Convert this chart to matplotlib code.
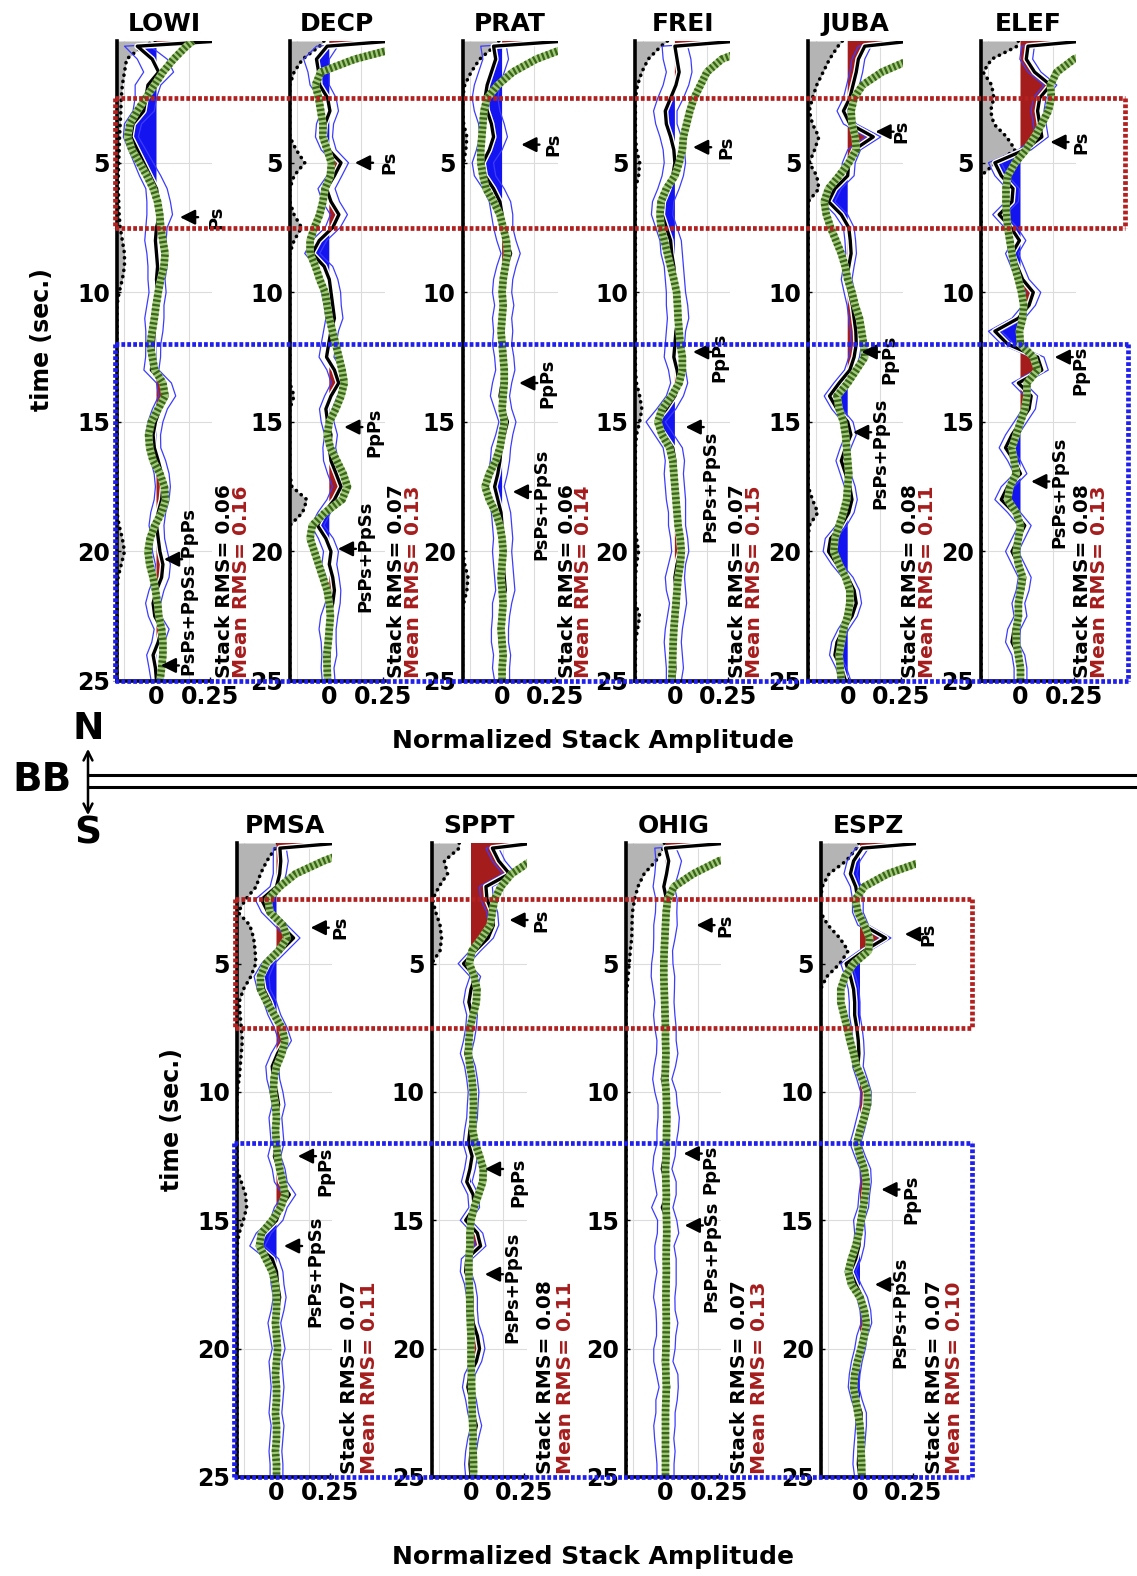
import numpy as np
import matplotlib
matplotlib.use('Agg')
import matplotlib.pyplot as plt
from matplotlib.lines import Line2D
from matplotlib.patches import FancyArrowPatch
import matplotlib.transforms as mtransforms
import matplotlib.patheffects as pe

plt.rcParams['font.family'] = ['DejaVu Sans']
plt.rcParams['font.weight'] = 'bold'

W, H = 1137, 1576

# sampling grid of the receiver-function traces (s)
T = np.concatenate([[0.3], np.arange(0.5, 25.01, 0.5)])

TOP_STATIONS = ["LOWI", "DECP", "PRAT", "FREI", "JUBA", "ELEF"]
BOT_STATIONS = ["PMSA", "SPPT", "OHIG", "ESPZ"]

STACK_RMS = {"LOWI": 0.06, "DECP": 0.07, "PRAT": 0.06, "FREI": 0.07, "JUBA": 0.08,
             "ELEF": 0.08, "PMSA": 0.07, "SPPT": 0.08, "OHIG": 0.07, "ESPZ": 0.07}
MEAN_RMS = {"LOWI": 0.16, "DECP": 0.13, "PRAT": 0.14, "FREI": 0.15, "JUBA": 0.11,
            "ELEF": 0.13, "PMSA": 0.11, "SPPT": 0.11, "OHIG": 0.13, "ESPZ": 0.10}

# ---------------- stacks (black), synthetics (green), spread (thin blue), gray curve
LOWI_STACK = [0.30, -0.09, -0.02, 0.01, -0.04, -0.05, -0.06, -0.11, -0.12, -0.09,
              -0.06, -0.03, 0.0, 0.01, 0.015, 0.0, -0.005, 0.0, 0.005, 0.0,
              0.005, -0.005, -0.01, -0.01, -0.015, -0.016, -0.024, 0.035, 0.05, 0.016,
              -0.005, -0.016, -0.01, 0.008, 0.024, 0.03, 0.024, 0.008, 0.0, 0.008,
              0.016, 0.03, 0.024, 0.0, -0.016, -0.008, 0.024, 0.008, -0.016, -0.005,
              0.0]
LOWI_SYN = [0.17, 0.14, 0.08, 0.03, -0.01, -0.05, -0.09, -0.125, -0.135, -0.115,
            -0.08, -0.045, -0.015, 0.005, 0.015, 0.02, 0.03, 0.04, 0.035, 0.02,
            0.008, -0.002, -0.01, -0.02, -0.03, -0.02, -0.008, 0.03, 0.04, 0.008,
            -0.024, -0.037, -0.032, -0.016, 0.016, 0.037, 0.043, 0.024, -0.008, -0.03,
            -0.04, -0.032, -0.016, -0.005, 0.005, 0.011, 0.024, 0.03, 0.03, 0.024,
            0.016]
LOWI_SPREAD = [0.0, 0.06, 0.07, 0.07, 0.06, 0.05, 0.05, 0.04, 0.035, 0.04,
               0.045, 0.05, 0.05, 0.055, 0.06, 0.05, 0.05, 0.045, 0.045, 0.04,
               0.04, 0.04, 0.045, 0.04, 0.035, 0.035, 0.035, 0.035, 0.04, 0.035,
               0.035, 0.035, 0.03, 0.035, 0.035, 0.035, 0.035, 0.035, 0.035, 0.03,
               0.035, 0.035, 0.035, 0.035, 0.035, 0.03, 0.035, 0.03, 0.03, 0.03,
               0.025]
LOWI_GRAY = [0.18, 0.12, 0.045, 0.035, 0.025, 0.02, 0.018, 0.015, 0.012, 0.01,
             0.008, 0.006, 0.006, 0.008, 0.01, 0.015, 0.025, 0.035, 0.035, 0.025,
             0.01, 0, 0, 0, 0, 0, 0, 0, 0, 0,
             0, 0, 0, 0, 0, 0, 0, 0, 0.01, 0.025,
             0.035, 0.02, 0.005, 0, 0, 0, 0, 0, 0, 0,
             0]

DECP_STACK = [0.30, -0.01, -0.06, -0.05, -0.045, -0.008, 0.003, -0.02, -0.025, -0.003,
              0.055, 0.024, -0.013, 0.008, 0.045, 0.016, -0.047, -0.08, -0.024, 0.0,
              0.008, 0.016, 0.024, 0.008, -0.003, -0.013, 0.024, 0.044, 0.008, -0.016,
              -0.008, 0.008, 0.0, 0.008, 0.032, 0.055, 0.024, -0.024, -0.055, -0.016,
              0.008, 0.0, 0.016, 0.024, 0.016, 0.0, -0.008, -0.003, 0.0, -0.008,
              -0.003]
DECP_SYN = [0.40, 0.35, 0.12, -0.04, -0.065, -0.05, -0.04, -0.03, -0.03, -0.01,
            0.01, 0.005, -0.02, -0.03, -0.045, -0.07, -0.09, -0.09, -0.065, -0.045,
            -0.02, -0.01, 0.0, 0.015, 0.03, 0.045, 0.06, 0.07, 0.055, 0.03,
            0.0, -0.01, 0.005, 0.035, 0.065, 0.085, 0.06, -0.02, -0.08, -0.09,
            -0.07, -0.05, -0.03, -0.01, 0.0, 0.005, 0.0, -0.005, -0.012, -0.01,
            -0.008]
DECP_SPREAD = [0.0, 0.05, 0.06, 0.05, 0.045, 0.04, 0.04, 0.04, 0.04, 0.035,
               0.035, 0.035, 0.04, 0.04, 0.04, 0.035, 0.035, 0.035, 0.04, 0.04,
               0.045, 0.04, 0.04, 0.035, 0.035, 0.035, 0.035, 0.035, 0.03, 0.03,
               0.03, 0.03, 0.03, 0.035, 0.04, 0.04, 0.035, 0.03, 0.03, 0.035,
               0.035, 0.035, 0.03, 0.03, 0.035, 0.04, 0.04, 0.035, 0.035, 0.03,
               0.03]
DECP_GRAY = [0.16, 0.14, 0.06, 0.02, 0, 0, 0, 0, 0, 0.03,
             0.07, 0.02, 0, 0, 0.02, 0.055, 0.02, 0, 0, 0,
             0, 0, 0, 0, 0, 0, 0, 0, 0.02, 0,
             0, 0, 0, 0, 0, 0.01, 0.08, 0.06, 0, 0,
             0, 0, 0, 0, 0, 0, 0, 0, 0, 0,
             0]

PRAT_STACK = [0.30, -0.04, -0.03, -0.05, -0.07, -0.08, -0.07, -0.05, -0.04, -0.06,
              -0.09, -0.08, -0.04, -0.01, 0.0, 0.005, 0.02, 0.04, 0.02, 0.005,
              0.0, 0.01, 0.0, 0.005, 0.0, 0.01, 0.015, 0.0, -0.01, 0.005,
              0.025, 0.01, -0.005, -0.01, -0.02, -0.035, -0.02, -0.005, 0.0, 0.005,
              0.0, 0.005, 0.01, 0.015, 0.0, -0.005, -0.01, -0.01, 0.0, -0.005,
              0.0]
PRAT_SYN = [0.40, 0.32, 0.16, 0.05, -0.02, -0.07, -0.085, -0.09, -0.095, -0.1,
            -0.1, -0.09, -0.075, -0.04, -0.01, 0.005, 0.02, 0.025, 0.015, 0.005,
            0.0, 0.005, 0.0, -0.005, 0.0, 0.005, 0.01, 0.01, 0.005, 0.0,
            0.01, 0.0, -0.01, -0.03, -0.06, -0.08, -0.06, -0.03, -0.01, 0.0,
            0.005, 0.0, -0.005, 0.0, 0.005, 0.0, -0.005, 0.0, 0.005, 0.0,
            0.0]
PRAT_SPREAD = [0.0, 0.06, 0.06, 0.06, 0.06, 0.06, 0.06, 0.06, 0.065, 0.06,
               0.05, 0.05, 0.05, 0.05, 0.05, 0.045, 0.045, 0.045, 0.045, 0.045,
               0.045, 0.045, 0.045, 0.045, 0.045, 0.045, 0.045, 0.045, 0.045, 0.04,
               0.04, 0.04, 0.045, 0.045, 0.045, 0.045, 0.045, 0.045, 0.045, 0.045,
               0.045, 0.045, 0.045, 0.045, 0.045, 0.04, 0.04, 0.04, 0.04, 0.04,
               0.035]
PRAT_GRAY = [0.17, 0.15, 0.08, 0.04, 0.01, 0, 0, 0.005, 0.02, 0.015,
             0.005, 0, 0, 0, 0, 0, 0, 0, 0, 0,
             0, 0, 0, 0, 0, 0, 0, 0, 0, 0,
             0, 0, 0, 0, 0, 0, 0, 0, 0, 0,
             0, 0.01, 0.025, 0.02, 0.005, 0, 0, 0, 0, 0,
             0]

FREI_STACK = [0.30, 0.0, 0.01, 0.02, 0.005, -0.02, -0.045, -0.04, -0.02, -0.005,
              0.0, -0.01, -0.03, -0.055, -0.06, -0.04, -0.02, -0.015, -0.005, 0.0,
              0.005, 0.01, 0.015, 0.005, 0.0, -0.005, 0.01, 0.02, 0.0, -0.04,
              -0.09, -0.05, -0.01, 0.0, -0.005, 0.0, 0.005, 0.01, 0.01, 0.02,
              0.025, 0.01, 0.0, 0.005, 0.015, 0.005, -0.005, -0.01, -0.005, 0.0,
              -0.005]
FREI_SYN = [0.45, 0.38, 0.22, 0.15, 0.12, 0.09, 0.07, 0.055, 0.04, 0.035,
            0.02, 0.0, -0.04, -0.065, -0.07, -0.065, -0.05, -0.035, -0.02, -0.005,
            0.008, 0.012, 0.015, 0.02, 0.025, 0.035, 0.035, 0.02, -0.015, -0.06,
            -0.08, -0.06, -0.025, -0.01, -0.005, 0.0, 0.005, 0.01, 0.015, 0.025,
            0.03, 0.025, 0.015, 0.01, 0.005, 0.0, -0.005, -0.008, -0.01, -0.012,
            -0.015]
FREI_SPREAD = [0.0, 0.06, 0.065, 0.06, 0.06, 0.06, 0.055, 0.05, 0.05, 0.05,
               0.05, 0.05, 0.05, 0.05, 0.05, 0.05, 0.05, 0.05, 0.045, 0.045,
               0.045, 0.05, 0.05, 0.045, 0.045, 0.045, 0.04, 0.04, 0.04, 0.045,
               0.045, 0.045, 0.045, 0.045, 0.045, 0.045, 0.045, 0.04, 0.04, 0.04,
               0.04, 0.04, 0.045, 0.045, 0.04, 0.04, 0.04, 0.04, 0.04, 0.04,
               0.035]
FREI_GRAY = [0.15, 0.12, 0.06, 0.03, 0.01, 0, 0, 0, 0, 0.005,
             0.02, 0.015, 0, 0, 0, 0, 0, 0, 0, 0,
             0, 0, 0, 0, 0, 0, 0, 0.005, 0.02, 0.03,
             0.02, 0.005, 0, 0, 0, 0, 0, 0, 0, 0.005,
             0.015, 0.005, 0, 0, 0, 0.02, 0.01, 0, 0, 0,
             0]

JUBA_STACK = [0.30, 0.08, 0.05, 0.04, 0.025, 0.01, -0.02, 0.01, 0.12, 0.03,
              0.005, 0.0, -0.06, -0.09, -0.03, 0.005, 0.012, 0.016, 0.005, -0.005,
              0.008, 0.022, 0.03, 0.038, 0.04, 0.03, 0.01, -0.04, -0.085, -0.05,
              0.0, 0.015, -0.01, -0.03, -0.01, 0.01, 0.02, 0.005, -0.03, -0.08,
              -0.09, -0.05, 0.0, 0.03, 0.04, 0.02, -0.02, -0.05, -0.06, -0.03,
              -0.01]
JUBA_SYN = [0.50, 0.45, 0.30, 0.16, 0.07, 0.03, 0.016, 0.02, 0.035, 0.04,
            0.005, -0.04, -0.09, -0.11, -0.1, -0.08, -0.055, -0.03, -0.012, 0.0,
            0.02, 0.035, 0.055, 0.065, 0.075, 0.08, 0.04, 0.0, -0.05, -0.04,
            -0.02, -0.01, -0.005, 0.0, 0.005, 0.0, -0.005, -0.02, -0.04, -0.06,
            -0.065, -0.04, -0.01, 0.01, 0.01, 0.0, -0.02, -0.03, -0.04, -0.035,
            -0.03]
JUBA_SPREAD = [0.0, 0.03, 0.03, 0.03, 0.03, 0.03, 0.03, 0.03, 0.035, 0.03,
               0.03, 0.03, 0.03, 0.03, 0.03, 0.025, 0.025, 0.025, 0.025, 0.025,
               0.025, 0.025, 0.025, 0.025, 0.025, 0.025, 0.025, 0.025, 0.025, 0.025,
               0.025, 0.025, 0.025, 0.025, 0.025, 0.025, 0.025, 0.025, 0.025, 0.025,
               0.025, 0.025, 0.025, 0.025, 0.025, 0.025, 0.025, 0.025, 0.025, 0.025,
               0.025]
JUBA_GRAY = [0.16, 0.14, 0.1, 0.07, 0.04, 0.02, 0.005, 0.02, 0.05, 0.03,
             0.005, 0.04, 0.05, 0, 0, 0, 0, 0, 0, 0,
             0, 0, 0, 0, 0, 0, 0, 0, 0, 0,
             0, 0, 0, 0, 0, 0, 0.02, 0.045, 0.005, 0,
             0, 0, 0, 0, 0, 0, 0, 0, 0, 0,
             0]

ELEF_STACK = [0.30, 0.035, 0.027, 0.066, 0.14, 0.09, 0.08, 0.09, 0.1, 0.02,
              -0.12, -0.09, -0.035, -0.04, -0.1, -0.045, -0.005, -0.04, -0.015, 0.01,
              0.06, 0.04, -0.01, -0.12, -0.06, 0.08, 0.1, -0.01, 0.05, 0.04,
              0.0, -0.04, -0.07, -0.03, 0.0, -0.06, -0.09, -0.03, 0.02, -0.01,
              -0.04, -0.01, 0.02, 0.01, -0.01, 0.0, -0.03, -0.04, -0.01, 0.0,
              0.0]
ELEF_SYN = [0.50, 0.40, 0.25, 0.17, 0.14, 0.145, 0.13, 0.1, 0.066, 0.025,
            -0.025, -0.06, -0.068, -0.068, -0.065, -0.06, -0.05, -0.04, -0.028, -0.01,
            0.005, 0.015, 0.01, -0.005, 0.0, 0.06, 0.08, 0.03, 0.03, 0.02,
            0.0, -0.02, -0.04, -0.03, -0.02, -0.05, -0.06, -0.02, 0.0, -0.01,
            -0.02, -0.01, 0.01, 0.0, -0.01, -0.01, -0.02, -0.02, -0.01, 0.0,
            0.0]
ELEF_SPREAD = [0.0, 0.03, 0.03, 0.03, 0.03, 0.03, 0.03, 0.03, 0.03, 0.03,
               0.03, 0.03, 0.03, 0.03, 0.03, 0.03, 0.03, 0.03, 0.03, 0.03,
               0.035, 0.03, 0.03, 0.03, 0.03, 0.03, 0.03, 0.03, 0.03, 0.03,
               0.03, 0.03, 0.03, 0.03, 0.03, 0.03, 0.03, 0.03, 0.03, 0.03,
               0.03, 0.03, 0.03, 0.03, 0.03, 0.03, 0.03, 0.03, 0.03, 0.03,
               0.03]
ELEF_GRAY = [0.175, 0.17, 0.05, 0.01, 0.05, 0.06, 0.045, 0.06, 0.12, 0.16,
             0.07, 0.0, 0, 0, 0, 0, 0, 0, 0, 0,
             0, 0, 0, 0, 0, 0, 0, 0, 0, 0,
             0, 0, 0, 0, 0, 0, 0, 0, 0, 0,
             0, 0, 0, 0, 0, 0, 0, 0, 0, 0,
             0]

PMSA_STACK = [0.30, 0.016, 0.02, 0.015, 0.0, -0.07, -0.04, 0.02, 0.08, 0.02,
              -0.04, -0.07, -0.06, -0.03, -0.01, 0.02, 0.04, 0.005, -0.02, -0.015,
              0.0, 0.01, -0.005, 0.0, 0.005, -0.01, 0.01, 0.02, 0.06, 0.02,
              0.0, -0.06, -0.09, -0.02, 0.0, 0.005, 0.015, 0.005, -0.01, 0.0,
              0.01, -0.005, 0.0, 0.005, 0.0, -0.005, 0.005, 0.0, -0.005, 0.0,
              0.0]
PMSA_SYN = [0.45, 0.38, 0.22, 0.09, 0.015, -0.04, -0.03, 0.03, 0.05, 0.01,
            -0.05, -0.075, -0.075, -0.045, -0.01, 0.025, 0.04, 0.025, 0.0, -0.012,
            -0.015, -0.005, 0.0, -0.005, 0.0, 0.005, 0.015, 0.03, 0.04, 0.02,
            -0.02, -0.07, -0.08, -0.05, -0.02, -0.005, 0.0, 0.0, -0.005, 0.0,
            0.005, 0.0, -0.005, 0.0, 0.0, -0.005, 0.0, 0.0, -0.005, 0.0,
            0.0]
PMSA_SPREAD = [0.0, 0.03, 0.035, 0.03, 0.03, 0.03, 0.03, 0.03, 0.03, 0.03,
               0.03, 0.035, 0.03, 0.03, 0.03, 0.03, 0.03, 0.03, 0.03, 0.03,
               0.03, 0.03, 0.03, 0.03, 0.03, 0.03, 0.03, 0.03, 0.03, 0.03,
               0.03, 0.035, 0.035, 0.03, 0.03, 0.03, 0.03, 0.03, 0.03, 0.03,
               0.03, 0.03, 0.03, 0.03, 0.03, 0.03, 0.03, 0.03, 0.03, 0.03,
               0.03]
PMSA_GRAY = [0.19, 0.18, 0.14, 0.11, 0.09, 0.04, 0.005, 0.06, 0.078, 0.085,
             0.088, 0.065, 0.03, 0.01, 0.015, 0.02, 0.025, 0.02, 0.015, 0.01,
             0.0, 0, 0, 0, 0, 0, 0, 0.02, 0.04, 0.045,
             0.03, 0.01, 0, 0, 0, 0, 0, 0, 0, 0,
             0, 0, 0, 0, 0, 0, 0, 0, 0, 0,
             0]

SPPT_STACK = [0.30, 0.10, 0.13, 0.18, 0.07, 0.075, 0.10, 0.105, 0.08, 0.02,
              -0.035, 0.02, 0.0, -0.01, 0.005, 0.0, -0.01, -0.025, -0.005, 0.005,
              0.012, 0.008, 0.005, -0.005, -0.012, 0.005, -0.005, -0.02, 0.01, 0.015,
              -0.025, 0.03, 0.045, -0.02, -0.025, -0.005, 0.005, 0.005, 0.01, 0.03,
              0.04, 0.025, -0.005, -0.015, 0.0, 0.01, 0.025, 0.01, 0.0, -0.005,
              0.0]
SPPT_SYN = [0.50, 0.45, 0.28, 0.19, 0.14, 0.11, 0.10, 0.09, 0.05, 0.005,
            -0.008, 0.015, 0.028, 0.025, 0.01, -0.005, -0.01, -0.012, -0.005, 0.005,
            0.01, 0.012, 0.01, 0.008, 0.02, 0.04, 0.058, 0.055, 0.035, 0.015,
            0.0, -0.005, -0.005, -0.01, -0.01, -0.008, -0.006, -0.005, -0.003, 0.0,
            0.0, 0.0, 0.002, 0.003, 0.005, 0.006, 0.008, 0.01, 0.01, 0.012,
            0.012]
SPPT_SPREAD = [0.0, 0.03, 0.03, 0.03, 0.03, 0.03, 0.025, 0.025, 0.025, 0.025,
               0.025, 0.025, 0.025, 0.025, 0.025, 0.025, 0.025, 0.025, 0.025, 0.025,
               0.025, 0.025, 0.025, 0.025, 0.025, 0.025, 0.025, 0.025, 0.025, 0.025,
               0.025, 0.025, 0.025, 0.025, 0.025, 0.025, 0.025, 0.025, 0.025, 0.025,
               0.025, 0.025, 0.025, 0.025, 0.025, 0.025, 0.025, 0.025, 0.025, 0.025,
               0.025]
SPPT_GRAY = [0.13, 0.13, 0.06, 0.075, 0.035, 0.005, 0.02, 0.04, 0.047, 0.04,
             0.0, 0, 0, 0, 0, 0, 0, 0, 0, 0,
             0, 0, 0, 0, 0, 0, 0, 0, 0, 0,
             0, 0, 0, 0, 0, 0, 0, 0, 0, 0,
             0, 0, 0, 0, 0, 0, 0, 0, 0, 0,
             0]

OHIG_STACK = [0.30, 0.0, 0.015, 0.005, -0.008, 0.005, 0.003, 0.0, -0.005, -0.012,
              -0.015, -0.012, -0.008, -0.005, -0.006, 0.0, 0.005, 0.008, -0.003, -0.015,
              0.0, 0.01, 0.015, 0.01, 0.005, -0.005, -0.015, 0.0, 0.005, -0.015,
              0.008, 0.012, -0.005, 0.0, 0.005, 0.0, -0.006, 0.0, 0.008, 0.003,
              -0.005, -0.01, 0.008, 0.015, 0.005, 0.0, -0.005, -0.006, 0.0, 0.0,
              0.0]
OHIG_SYN = [0.50, 0.45, 0.25, 0.13, 0.04, 0.01, 0.003, 0.0, -0.003, -0.006,
            -0.008, -0.008, -0.006, -0.004, -0.002, 0.0, 0.0, 0.002, 0.0, -0.002,
            0.003, 0.005, 0.006, 0.005, 0.004, 0.003, 0.0, 0.002, 0.004, 0.003,
            0.005, 0.006, 0.004, 0.003, 0.004, 0.003, 0.002, 0.003, 0.004, 0.003,
            0.002, 0.0, 0.002, 0.004, 0.002, 0.0, 0.0, 0.0, 0.0, 0.0,
            0.0]
OHIG_SPREAD = [0.0, 0.05, 0.06, 0.055, 0.05, 0.05, 0.05, 0.055, 0.05, 0.045,
               0.05, 0.055, 0.05, 0.045, 0.05, 0.05, 0.045, 0.05, 0.05, 0.045,
               0.05, 0.045, 0.05, 0.05, 0.045, 0.05, 0.045, 0.05, 0.045, 0.05,
               0.045, 0.05, 0.045, 0.05, 0.045, 0.05, 0.05, 0.045, 0.05, 0.045,
               0.05, 0.045, 0.05, 0.045, 0.05, 0.045, 0.05, 0.045, 0.045, 0.04,
               0.04]
OHIG_GRAY = [0.18, 0.175, 0.14, 0.085, 0.056, 0.04, 0.03, 0.028, 0.027, 0.02,
             0.015, 0.01, 0.004, 0, 0, 0, 0, 0, 0, 0,
             0, 0, 0, 0, 0, 0, 0, 0, 0, 0,
             0, 0, 0, 0, 0, 0, 0, 0, 0, 0,
             0, 0, 0, 0, 0, 0, 0, 0, 0, 0,
             0]

ESPZ_STACK = [0.30, 0.01, -0.03, -0.045, -0.02, -0.01, -0.01, 0.015, 0.12, 0.02,
              -0.065, -0.045, -0.03, -0.025, -0.025, -0.015, -0.008, -0.005, -0.01, 0.01,
              0.028, 0.025, 0.01, -0.005, -0.022, 0.0, 0.025, 0.028, 0.02, 0.015,
              -0.005, 0.0, -0.005, -0.02, -0.045, -0.02, 0.01, 0.025, 0.03, 0.01,
              0.0, -0.015, -0.025, -0.03, -0.015, 0.005, 0.005, 0.0, -0.005, -0.008,
              0.0]
ESPZ_SYN = [0.50, 0.45, 0.30, 0.13, 0.02, -0.022, -0.01, 0.02, 0.045, 0.04,
            -0.03, -0.07, -0.09, -0.09, -0.075, -0.06, -0.047, -0.03, -0.016, 0.01,
            0.035, 0.035, 0.02, 0.0, -0.015, 0.0, 0.02, 0.03, 0.025, 0.015,
            0.005, -0.005, -0.02, -0.04, -0.055, -0.04, 0.0, 0.02, 0.03, 0.02,
            0.005, -0.012, -0.025, -0.03, -0.02, -0.01, 0.0, 0.005, 0.005, 0.008,
            0.008]
ESPZ_SPREAD = [0.0, 0.03, 0.03, 0.03, 0.025, 0.025, 0.025, 0.025, 0.025, 0.025,
               0.025, 0.025, 0.025, 0.025, 0.025, 0.025, 0.025, 0.025, 0.025, 0.025,
               0.025, 0.025, 0.025, 0.025, 0.025, 0.025, 0.025, 0.025, 0.025, 0.025,
               0.025, 0.025, 0.025, 0.025, 0.025, 0.025, 0.025, 0.025, 0.025, 0.025,
               0.025, 0.025, 0.025, 0.025, 0.025, 0.025, 0.025, 0.025, 0.025, 0.025,
               0.025]
ESPZ_GRAY = [0.18, 0.17, 0.12, 0.04, 0.008, 0, 0, 0.035, 0.09, 0.13,
             0.09, 0.03, 0, 0, 0, 0, 0, 0, 0, 0,
             0, 0, 0, 0, 0, 0, 0, 0, 0, 0,
             0, 0, 0, 0, 0, 0, 0, 0, 0, 0,
             0, 0, 0, 0, 0, 0, 0, 0, 0, 0,
             0]

# phase arrows: (time, amplitude of arrow head) and phase labels (text, x, time)
ARROWS = {
    "LOWI": [(7.1, 0.11), (20.3, 0.035), (24.4, 0.02)],
    "DECP": [(5.0, 0.12), (15.2, 0.07), (19.9, 0.04)],
    "PRAT": [(4.3, 0.09), (13.5, 0.08), (17.7, 0.05)],
    "FREI": [(4.4, 0.085), (12.3, 0.085), (15.2, 0.05)],
    "JUBA": [(3.8, 0.13), (12.3, 0.065), (15.4, 0.025)],
    "ELEF": [(4.2, 0.14), (12.5, 0.16), (17.3, 0.05)],
    "PMSA": [(3.6, 0.16), (12.5, 0.1), (16.0, 0.035)],
    "SPPT": [(3.3, 0.18), (13.0, 0.065), (17.1, 0.065)],
    "OHIG": [(3.5, 0.145), (12.4, 0.085), (15.2, 0.09)],
    "ESPZ": [(3.85, 0.21), (13.8, 0.1), (17.5, 0.07)],
}
LABELS = {
    "LOWI": [("Ps", 0.28, 7.1), ("PsPs+PpSs PpPs", 0.155, 21.6)],
    "DECP": [("Ps", 0.28, 5.0), ("PpPs", 0.21, 15.4), ("PsPs+PpSs", 0.17, 20.2)],
    "PRAT": [("Ps", 0.24, 4.3), ("PpPs", 0.21, 13.5), ("PsPs+PpSs", 0.185, 18.2)],
    "FREI": [("Ps", 0.24, 4.4), ("PpPs", 0.21, 12.5), ("PsPs+PpSs", 0.165, 17.5)],
    "JUBA": [("Ps", 0.25, 3.8), ("PpPs", 0.195, 12.6), ("PsPs+PpSs", 0.155, 16.2)],
    "ELEF": [("Ps", 0.285, 4.2), ("PpPs", 0.28, 13.0), ("PsPs+PpSs", 0.18, 17.7)],
    "PMSA": [("Ps", 0.3, 3.6), ("PpPs", 0.23, 13.1), ("PsPs+PpSs", 0.18, 17.0)],
    "SPPT": [("Ps", 0.33, 3.3), ("PpPs", 0.22, 13.5), ("PsPs+PpSs", 0.195, 17.6)],
    "OHIG": [("Ps", 0.28, 3.5), ("PpPs", 0.21, 13.0), ("PsPs+PpSs", 0.215, 16.4)],
    "ESPZ": [("Ps", 0.32, 3.85), ("PpPs", 0.24, 14.2), ("PsPs+PpSs", 0.19, 18.6)],
}
RMS_X = {"LOWI": 0.32, "DECP": 0.315, "PRAT": 0.305, "FREI": 0.295, "JUBA": 0.295,
         "ELEF": 0.29, "PMSA": 0.34, "SPPT": 0.35, "OHIG": 0.345, "ESPZ": 0.35}

DATA = {
    "LOWI": (LOWI_STACK, LOWI_SYN, LOWI_SPREAD, LOWI_GRAY),
    "DECP": (DECP_STACK, DECP_SYN, DECP_SPREAD, DECP_GRAY),
    "PRAT": (PRAT_STACK, PRAT_SYN, PRAT_SPREAD, PRAT_GRAY),
    "FREI": (FREI_STACK, FREI_SYN, FREI_SPREAD, FREI_GRAY),
    "JUBA": (JUBA_STACK, JUBA_SYN, JUBA_SPREAD, JUBA_GRAY),
    "ELEF": (ELEF_STACK, ELEF_SYN, ELEF_SPREAD, ELEF_GRAY),
    "PMSA": (PMSA_STACK, PMSA_SYN, PMSA_SPREAD, PMSA_GRAY),
    "SPPT": (SPPT_STACK, SPPT_SYN, SPPT_SPREAD, SPPT_GRAY),
    "OHIG": (OHIG_STACK, OHIG_SYN, OHIG_SPREAD, OHIG_GRAY),
    "ESPZ": (ESPZ_STACK, ESPZ_SYN, ESPZ_SPREAD, ESPZ_GRAY),
}

XLIM = (-0.185, 0.26)
RED = '#a51c1c'
BLUE_FILL = '#1414f0'
BOX_RED = '#b22020'
BOX_BLUE = '#2020ee'

fig = plt.figure(figsize=(W / 100, H / 100), dpi=100)


def fy(y):
    return 1 - y / H


def draw_panel(ax, name):
    stack, syn, spread, gray = [np.asarray(a, float) for a in DATA[name]]
    ax.set_xlim(XLIM)
    ax.set_ylim(25, 0.3)
    for g in (-0.15, 0.15):
        ax.axvline(g, color='#dcdcdc', lw=0.8, zorder=0)
    for yy in (5, 10, 15, 20):
        ax.axhline(yy, color='#dcdcdc', lw=0.8, zorder=0)
    xl = XLIM[0]
    ax.fill_betweenx(T, xl, xl + gray, color='#b4b4b4', lw=0, zorder=1)
    ax.plot(xl + gray, T, color='black', lw=2.6, ls=(0, (0.05, 1.7)),
            dash_capstyle='round', zorder=2)
    ax.fill_betweenx(T, 0, stack, where=stack >= 0, interpolate=True,
                     color=RED, lw=0, zorder=3)
    ax.fill_betweenx(T, 0, stack, where=stack <= 0, interpolate=True,
                     color=BLUE_FILL, lw=0, zorder=3)
    ax.plot(stack + spread, T, color='#3c3cff', lw=0.9, zorder=4)
    ax.plot(stack - spread, T, color='#3c3cff', lw=0.9, zorder=4)
    ax.plot(stack, T, color='black', lw=2.4, zorder=5,
            path_effects=[pe.Stroke(linewidth=4.4, foreground='white'), pe.Normal()])
    ax.plot(syn, T, color='#a2c97a', lw=5.5, zorder=6, solid_capstyle='butt')
    ax.plot(syn, T, color='#3a661a', lw=5.5, ls=(0, (0.3, 0.3)),
            dash_capstyle='butt', zorder=7)

    for (t, xh) in ARROWS[name]:
        ax.annotate('', xy=(xh, t), xytext=(xh + 0.085, t),
                    arrowprops=dict(arrowstyle='-|>,head_length=0.5,head_width=0.25',
                                    color='black', lw=1.7,
                                    mutation_scale=18, shrinkA=0, shrinkB=0),
                    annotation_clip=False, zorder=9)
    for (txt, x, t) in LABELS[name]:
        ax.text(x, t, txt, rotation=90, ha='center', va='center', fontsize=13,
                fontweight='bold', clip_on=False, zorder=9)
    xr = RMS_X[name]
    dx = 0.078 if name in TOP_STATIONS else 0.095
    ax.text(xr, 24.9, 'Stack RMS= %.2f' % STACK_RMS[name], rotation=90, ha='center',
            va='bottom', fontsize=14.5, fontweight='bold', color='black', clip_on=False)
    ax.text(xr + dx, 24.9, 'Mean RMS= %.2f' % MEAN_RMS[name], rotation=90, ha='center',
            va='bottom', fontsize=14.5, fontweight='bold', color=RED, clip_on=False)

    ax.set_yticks([5, 10, 15, 20, 25])
    ax.set_xticks([0, 0.25])
    ax.set_xticklabels(['0', '0.25'])
    ax.tick_params(axis='both', labelsize=17, direction='in', length=3, width=1)
    ax.tick_params(axis='y', pad=5)
    ax.tick_params(axis='x', pad=3)
    for s in ('top', 'right'):
        ax.spines[s].set_visible(False)
    for s in ('left', 'bottom'):
        ax.spines[s].set_linewidth(2.6)
        ax.spines[s].set_zorder(8)
    ax.set_title(name, fontsize=18, fontweight='bold', pad=7)


top_axes = []
for i, name in enumerate(TOP_STATIONS):
    left = 117 + i * 172.8
    ax = fig.add_axes([left / W, fy(681), 95 / W, 640 / H])
    draw_panel(ax, name)
    top_axes.append(ax)

bot_axes = []
for i, name in enumerate(BOT_STATIONS):
    left = 237 + i * 194.5
    ax = fig.add_axes([left / W, fy(1477), 95 / W, 634 / H])
    draw_panel(ax, name)
    bot_axes.append(ax)


def box_line(ax, xs_px, ts, color):
    tr = mtransforms.blended_transform_factory(fig.transFigure, ax.transData)
    fig.add_artist(Line2D([x / W for x in xs_px], ts, transform=tr, color=color,
                          lw=3.4, ls=(0, (0.8, 0.45)), dash_capstyle='butt', zorder=30))


# top-row windows
a0 = top_axes[0]
for t in (2.5, 7.5):
    box_line(a0, [115, 1125], [t, t], BOX_RED)
box_line(a0, [1125, 1125], [2.5, 7.5], BOX_RED)
box_line(a0, [115, 115], [2.5, 7.5], BOX_RED)
for t in (12, 25):
    box_line(a0, [115, 1128], [t, t], BOX_BLUE)
box_line(a0, [1128, 1128], [12, 25], BOX_BLUE)
box_line(a0, [115, 115], [12, 25], BOX_BLUE)

# bottom-row windows
b0 = bot_axes[0]
for t in (2.5, 7.5):
    box_line(b0, [235, 972], [t, t], BOX_RED)
box_line(b0, [972, 972], [2.5, 7.5], BOX_RED)
box_line(b0, [235, 235], [2.5, 7.5], BOX_RED)
for t in (12, 25):
    box_line(b0, [234, 972], [t, t], BOX_BLUE)
box_line(b0, [972, 972], [12, 25], BOX_BLUE)
box_line(b0, [234, 234], [12, 25], BOX_BLUE)

# axis titles
fig.text(42 / W, fy(340), 'time (sec.)', rotation=90, ha='center', va='center',
         fontsize=17, fontweight='bold')
fig.text(172 / W, fy(1120), 'time (sec.)', rotation=90, ha='center', va='center',
         fontsize=17, fontweight='bold')
fig.text(593 / W, fy(741), 'Normalized Stack Amplitude', ha='center', va='center',
         fontsize=18, fontweight='bold')
fig.text(593 / W, fy(1557), 'Normalized Stack Amplitude', ha='center', va='center',
         fontsize=18, fontweight='bold')

# BB divider with N/S arrow
fig.text(42 / W, fy(780), 'BB', ha='center', va='center', fontsize=28, fontweight='heavy')
fig.text(88 / W, fy(729), 'N', ha='center', va='center', fontsize=27, fontweight='heavy')
fig.text(88 / W, fy(833), 'S', ha='center', va='center', fontsize=27, fontweight='heavy')
fig.add_artist(FancyArrowPatch((88 / W, fy(746)), (88 / W, fy(818)),
                               transform=fig.transFigure, arrowstyle='<->',
                               mutation_scale=16, lw=1.8, color='black'))
for yy in (775, 787):
    fig.add_artist(Line2D([88 / W, 1.0], [fy(yy), fy(yy)], transform=fig.transFigure,
                          color='black', lw=2.2))

fig.savefig('out.png', dpi=100)
